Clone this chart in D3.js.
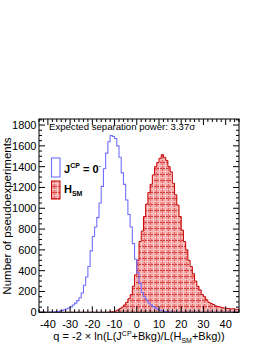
<!DOCTYPE html>
<html>
<head>
<meta charset="utf-8">
<script src="https://cdn.jsdelivr.net/npm/d3@7"></script>
<style>
  body { margin: 0; background: #fff; }
  svg { display: block; font-family: "Liberation Sans", Arial, sans-serif; }
</style>
</head>
<body>
<div id="container"></div>
<script>
// bins of width 1, left edges from -44 to 45
const binStart = -44;
const binWidth = 1;
const blueValues = [
  0, 0, 0, 1, 1, 2, 3, 5, 7, 11,
  17, 25, 32, 42, 52, 70, 88, 112, 140, 185,
  260, 340, 440, 590, 728, 820, 910, 1050, 1210, 1380,
  1530, 1640, 1700, 1690, 1670, 1600, 1490, 1340, 1230, 1080,
  940, 820, 660, 510, 380, 280, 190, 150, 118, 90,
  72, 55, 40, 30, 20, 12, 8, 5, 3, 2,
  1, 0, 0, 0, 0, 0, 0, 0, 0, 0,
  0, 0, 0, 0, 0, 0, 0, 0, 0, 0,
  0, 0, 0, 0, 0, 0, 0, 0, 0, 0
];
const redValues = [
  0, 0, 0, 0, 0, 0, 0, 0, 0, 0,
  0, 0, 0, 0, 0, 0, 0, 0, 0, 0,
  0, 0, 0, 0, 0, 0, 0, 0, 0, 0,
  0, 2, 4, 6, 12, 22, 35, 50, 70, 95,
  130, 170, 250, 360, 500, 680, 780, 920, 1040, 1150,
  1230, 1320, 1400, 1440, 1480, 1515, 1490, 1460, 1400, 1350,
  1240, 1130, 1030, 920, 790, 680, 600, 500, 440, 370,
  300, 250, 215, 170, 150, 120, 95, 85, 75, 62,
  55, 52, 45, 40, 38, 36, 32, 35, 30, 28
];
const xTicks = [-40, -30, -20, -10, 0, 10, 20, 30, 40];
const yTicks = [0, 200, 400, 600, 800, 1000, 1200, 1400, 1600, 1800];

const W = 267, H = 346;
const frame = { left: 39, top: 119, width: 200, height: 193.3 };

const svg = d3.select('#container').append('svg')
  .attr('width', W).attr('height', H);

const x = d3.scaleLinear().domain([-44, 46]).range([frame.left, frame.left + frame.width]);
const y = d3.scaleLinear().domain([0, 1858]).range([frame.top + frame.height, frame.top]);

// fill pattern, ROOT-like red hatch
const defs = svg.append('defs');
const pat = defs.append('pattern').attr('id', 'hatch')
  .attr('patternUnits', 'userSpaceOnUse').attr('width', 6).attr('height', 6);
pat.append('rect').attr('width', 6).attr('height', 6).attr('fill', '#f3a2a2');
pat.append('rect').attr('x', 0).attr('y', 0).attr('width', 6).attr('height', 1).attr('fill', '#d43a3a');
pat.append('rect').attr('x', 0).attr('y', 0).attr('width', 1).attr('height', 6).attr('fill', '#e46a6a');
pat.append('rect').attr('x', 3).attr('y', 0).attr('width', 1).attr('height', 6).attr('fill', '#f9cccc');
pat.append('rect').attr('x', 0).attr('y', 3).attr('width', 6).attr('height', 1).attr('fill', '#f7c0c0');

function toPoints(values) {
  const pts = values.map((v, i) => [binStart + i * binWidth, v]);
  pts.push([binStart + values.length * binWidth, values[values.length - 1]]);
  return pts;
}

const clip = defs.append('clipPath').attr('id', 'frameClip');
clip.append('rect').attr('x', frame.left).attr('y', frame.top)
  .attr('width', frame.width).attr('height', frame.height);

const plot = svg.append('g').attr('clip-path', 'url(#frameClip)');

const area = d3.area().curve(d3.curveStepAfter)
  .x(d => x(d[0])).y0(y(0)).y1(d => y(d[1]));
const line = d3.line().curve(d3.curveStepAfter)
  .x(d => x(d[0])).y(d => y(d[1]));

plot.append('path').datum(toPoints(redValues))
  .attr('d', area).attr('fill', 'url(#hatch)');
plot.append('path').datum(toPoints(redValues))
  .attr('d', line).attr('fill', 'none').attr('stroke', '#c80000').attr('stroke-width', 1);
plot.append('path').datum(toPoints(blueValues))
  .attr('d', line).attr('fill', 'none').attr('stroke', '#7070ff').attr('stroke-width', 1.1);

// frame
svg.append('rect').attr('x', frame.left).attr('y', frame.top)
  .attr('width', frame.width).attr('height', frame.height)
  .attr('fill', 'none').attr('stroke', '#000').attr('stroke-width', 1);

// ticks on all four sides, pointing inwards
const xMinor = d3.range(-44, 47, 2).filter(v => v % 10 !== 0);
const yMinor = d3.range(0, 1858, 50).filter(v => v % 200 !== 0);
const tk = svg.append('g').attr('stroke', '#000').attr('stroke-width', 1);
const yb = y(0), yt = frame.top, xl = frame.left, xr = frame.left + frame.width;
xTicks.forEach(v => {
  tk.append('line').attr('x1', x(v)).attr('x2', x(v)).attr('y1', yb).attr('y2', yb - 6);
  tk.append('line').attr('x1', x(v)).attr('x2', x(v)).attr('y1', yt).attr('y2', yt + 6);
});
xMinor.forEach(v => {
  tk.append('line').attr('x1', x(v)).attr('x2', x(v)).attr('y1', yb).attr('y2', yb - 3);
  tk.append('line').attr('x1', x(v)).attr('x2', x(v)).attr('y1', yt).attr('y2', yt + 3);
});
yTicks.forEach(v => {
  tk.append('line').attr('x1', xl).attr('x2', xl + 6).attr('y1', y(v)).attr('y2', y(v));
  tk.append('line').attr('x1', xr).attr('x2', xr - 6).attr('y1', y(v)).attr('y2', y(v));
});
yMinor.forEach(v => {
  tk.append('line').attr('x1', xl).attr('x2', xl + 3).attr('y1', y(v)).attr('y2', y(v));
  tk.append('line').attr('x1', xr).attr('x2', xr - 3).attr('y1', y(v)).attr('y2', y(v));
});

// tick labels
svg.append('g').selectAll('text').data(xTicks).join('text')
  .attr('x', d => x(d)).attr('y', 328).attr('text-anchor', 'middle')
  .attr('font-size', 11).text(d => d);
svg.append('g').selectAll('text').data(yTicks).join('text')
  .attr('x', 36.5).attr('y', d => y(d) + 4).attr('text-anchor', 'end')
  .attr('font-size', 11).text(d => d);

// axis titles
svg.append('text').attr('transform', 'translate(11,216) rotate(-90)')
  .attr('text-anchor', 'middle').attr('font-size', 11.5).text('Number of pseudoexperiments');

const xt = svg.append('text').attr('x', 139).attr('y', 340).attr('text-anchor', 'middle').attr('font-size', 11);
xt.append('tspan').text('q = -2 \u00d7 ln(L(J');
xt.append('tspan').attr('font-size', 7).attr('dy', -4).text('CP');
xt.append('tspan').attr('dy', 4).text('+Bkg)/L(H');
xt.append('tspan').attr('font-size', 7).attr('dy', 3).text('SM');
xt.append('tspan').attr('dy', -3).text('+Bkg))');

svg.append('text').attr('x', 49).attr('y', 129.5).attr('font-size', 9.6)
  .text('Expected separation power: 3.37\u03c3');

// legend
svg.append('rect').attr('x', 51.5).attr('y', 158).attr('width', 8.5).attr('height', 19)
  .attr('fill', 'none').attr('stroke', '#7070ff').attr('stroke-width', 1.1);
svg.append('rect').attr('x', 51.5).attr('y', 181).attr('width', 8.5).attr('height', 18)
  .attr('fill', 'url(#hatch)').attr('stroke', '#c80000').attr('stroke-width', 1);

const l1 = svg.append('text').attr('x', 64).attr('y', 173).attr('font-size', 11).attr('font-weight', 'bold');
l1.append('tspan').text('J');
l1.append('tspan').attr('font-size', 7).attr('dy', -5).text('CP');
l1.append('tspan').attr('dy', 5).text(' = 0');
l1.append('tspan').attr('font-size', 7).attr('font-weight', 'normal').attr('dy', -5).text('-');

const l2 = svg.append('text').attr('x', 64).attr('y', 193).attr('font-size', 11).attr('font-weight', 'bold');
l2.append('tspan').text('H');
l2.append('tspan').attr('font-size', 7).attr('dy', 3).text('SM');
</script>
</body>
</html>
